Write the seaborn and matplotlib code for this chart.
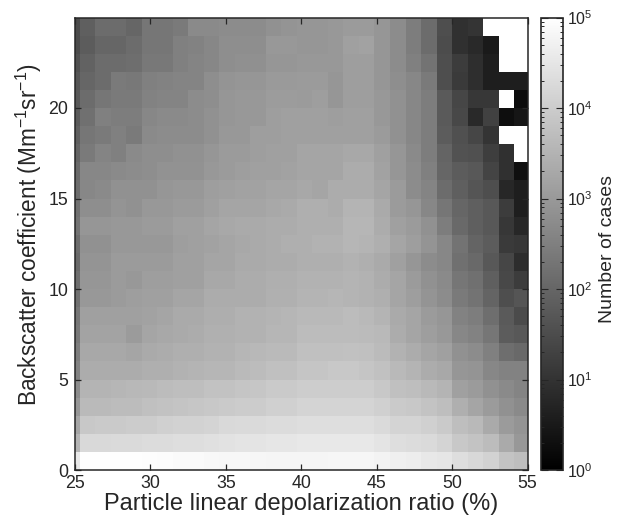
import numpy as np
import seaborn as sns
import matplotlib.pyplot as plt
from matplotlib.colors import LogNorm
from matplotlib.ticker import LogLocator, NullFormatter

nan = np.nan

# log10(number of cases), one list per backscatter bin, columns follow depolarization
row_24 = [1.47,1.86,2.12,2.12,2.00,2.31,2.31,2.39,2.71,2.71,2.75,2.75,2.75,2.84,2.90,2.94,2.94,2.98,3.04,3.04,2.94,2.75,2.45,2.12,1.53,0.94,1.02,nan,nan,nan]
row_23 = [1.47,1.80,2.00,2.00,2.12,2.31,2.31,2.51,2.55,2.65,2.78,2.78,2.78,2.98,2.98,2.94,2.94,2.98,3.14,3.18,2.94,2.75,2.45,2.12,1.49,0.94,0.82,0.51,nan,nan]
row_22 = [1.57,1.92,2.12,2.12,2.16,2.35,2.35,2.51,2.59,2.65,2.78,2.82,2.82,2.94,2.94,2.98,2.98,2.98,3.10,3.10,2.94,2.75,2.51,2.25,1.53,1.18,0.90,0.59,nan,nan]
row_21 = [1.67,2.00,2.12,2.39,2.35,2.51,2.55,2.59,2.59,2.78,2.90,2.94,2.94,3.02,3.02,3.04,3.04,2.94,3.10,3.10,2.94,2.78,2.65,2.39,1.53,1.14,0.90,0.59,0.59,0.59]
row_20 = [1.73,2.12,2.31,2.39,2.39,2.55,2.59,2.59,2.75,2.78,2.94,2.98,2.98,3.06,3.06,3.04,3.10,2.94,3.10,3.10,2.98,2.84,2.65,2.45,1.76,1.37,1.08,1.08,nan,0.24]
row_19 = [1.76,2.20,2.51,2.45,2.45,2.65,2.71,2.71,2.75,2.84,2.94,2.98,2.98,3.10,3.14,3.14,3.14,3.10,3.14,3.14,2.98,2.84,2.65,2.45,1.76,1.41,0.82,1.27,0.29,0.43]
row_18 = [1.86,2.31,2.39,2.51,2.39,2.71,2.75,2.75,2.75,2.84,2.98,2.98,3.10,3.10,3.14,3.14,3.14,3.14,3.14,3.14,3.04,2.84,2.65,2.45,1.80,1.57,1.37,1.02,nan,nan]
row_17 = [1.96,2.39,2.59,2.51,2.71,2.78,2.78,2.84,2.84,2.94,3.04,3.04,3.10,3.14,3.14,3.24,3.24,3.24,3.29,3.29,3.14,2.94,2.71,2.45,1.96,1.61,1.57,1.22,0.94,nan]
row_16 = [2.06,2.65,2.65,2.71,2.75,2.78,2.86,2.86,2.86,2.98,3.04,3.10,3.14,3.14,3.18,3.24,3.24,3.24,3.37,3.37,3.18,2.94,2.75,2.51,2.00,1.80,1.73,1.33,0.94,0.31]
row_15 = [2.12,2.65,2.71,2.84,2.84,2.84,2.94,2.98,2.98,3.10,3.14,3.18,3.18,3.24,3.24,3.29,3.24,3.37,3.37,3.37,3.24,3.04,2.75,2.59,2.12,1.86,1.67,1.53,0.78,0.59]
row_14 = [2.20,2.78,2.78,2.90,2.84,2.98,2.98,3.04,3.04,3.14,3.24,3.24,3.24,3.29,3.33,3.43,3.43,3.37,3.53,3.53,3.33,3.04,2.94,2.65,2.31,2.00,1.86,1.73,1.18,0.59]
row_13 = [2.25,2.94,2.94,2.98,2.98,3.04,3.04,3.14,3.14,3.24,3.29,3.33,3.33,3.37,3.37,3.43,3.43,3.43,3.57,3.57,3.37,3.14,3.04,2.84,2.45,2.06,1.86,1.73,1.08,0.78]
row_12 = [2.12,2.84,2.84,2.98,2.98,2.98,2.98,3.10,3.14,3.18,3.24,3.29,3.33,3.37,3.43,3.43,3.49,3.49,3.57,3.53,3.43,3.24,3.10,2.90,2.65,2.25,1.96,1.80,1.14,1.08]
row_11 = [2.06,2.90,2.90,3.04,3.04,3.04,3.04,3.14,3.14,3.24,3.24,3.33,3.33,3.37,3.37,3.43,3.43,3.43,3.49,3.43,3.33,3.14,2.94,2.75,2.65,2.20,2.06,1.73,1.37,0.88]
row_10 = [2.16,2.94,2.94,3.04,2.98,3.10,3.10,3.14,3.14,3.29,3.29,3.37,3.37,3.43,3.43,3.49,3.49,3.49,3.53,3.49,3.37,3.24,3.04,2.84,2.71,2.31,2.20,1.86,1.41,1.18]
row_09 = [2.20,2.98,2.98,3.04,3.10,3.14,3.14,3.24,3.24,3.37,3.37,3.37,3.37,3.45,3.45,3.53,3.53,3.57,3.53,3.49,3.43,3.24,3.10,2.90,2.75,2.39,2.25,1.96,1.53,1.67]
row_08 = [2.31,3.14,3.14,3.14,3.14,3.18,3.24,3.33,3.33,3.41,3.41,3.49,3.49,3.53,3.57,3.63,3.63,3.63,3.69,3.63,3.53,3.33,3.24,3.04,2.94,2.55,2.45,2.16,1.76,1.47]
row_07 = [2.35,3.20,3.20,3.20,3.04,3.24,3.29,3.33,3.37,3.45,3.45,3.49,3.49,3.57,3.57,3.69,3.69,3.69,3.69,3.67,3.63,3.37,3.24,3.10,2.98,2.65,2.55,2.31,1.80,1.73]
row_06 = [2.45,3.29,3.29,3.29,3.24,3.33,3.37,3.43,3.43,3.49,3.49,3.57,3.61,3.65,3.65,3.76,3.76,3.76,3.78,3.76,3.67,3.49,3.37,3.24,3.14,2.84,2.75,2.51,2.16,2.06]
row_05 = [2.55,3.37,3.37,3.37,3.37,3.43,3.43,3.49,3.53,3.57,3.57,3.65,3.69,3.76,3.76,3.86,3.86,3.92,3.92,3.86,3.78,3.63,3.53,3.37,3.29,2.94,2.90,2.65,2.55,2.55]
row_04 = [2.75,3.53,3.53,3.57,3.61,3.63,3.69,3.73,3.73,3.80,3.80,3.86,3.88,3.96,3.96,4.02,4.02,4.02,4.02,4.02,3.92,3.76,3.73,3.63,3.53,3.14,3.04,2.84,2.71,2.59]
row_03 = [2.94,3.65,3.65,3.69,3.69,3.76,3.80,3.84,3.88,3.92,3.96,4.00,4.00,4.08,4.08,4.16,4.16,4.16,4.16,4.16,4.08,3.96,3.92,3.82,3.73,3.43,3.24,3.04,2.84,2.71]
row_02 = [3.24,3.92,3.96,3.96,4.00,4.00,4.08,4.12,4.12,4.16,4.24,4.27,4.27,4.31,4.31,4.35,4.35,4.35,4.35,4.35,4.27,4.16,4.16,4.08,3.96,3.73,3.63,3.33,3.04,2.90]
row_01 = [3.53,4.24,4.24,4.27,4.27,4.31,4.31,4.35,4.35,4.39,4.43,4.47,4.47,4.51,4.51,4.55,4.55,4.55,4.55,4.55,4.47,4.35,4.31,4.27,4.16,3.92,3.82,3.69,3.33,2.98]
row_00 = [4.55,4.98,4.98,4.98,4.98,4.96,4.94,4.90,4.90,4.86,4.84,4.84,4.82,4.80,4.80,4.80,4.80,4.82,4.82,4.82,4.75,4.67,4.63,4.55,4.51,4.35,4.22,4.12,3.82,3.73]

x_ticks = [25, 30, 35, 40, 45, 50, 55]
y_ticks = [0, 5, 10, 15, 20]
cbar_ticks = [1, 10, 100, 1000, 10000, 100000]

sns.set_style('white')
plt.rcParams['font.family'] = ['Liberation Sans', 'DejaVu Sans']
plt.rcParams['mathtext.fontset'] = 'custom'
plt.rcParams['mathtext.rm'] = 'Liberation Sans'
plt.rcParams['mathtext.default'] = 'regular'
plt.rcParams['axes.axisbelow'] = False

log_cases = np.array([row_24, row_23, row_22, row_21, row_20, row_19, row_18, row_17, row_16,
                      row_15, row_14, row_13, row_12, row_11, row_10, row_09, row_08, row_07,
                      row_06, row_05, row_04, row_03, row_02, row_01, row_00])
cases = 10 ** log_cases

W, H = 619, 523
fig = plt.figure(figsize=(W / 100, H / 100), dpi=100)
ax = fig.add_axes([75 / W, 1 - 470 / H, 452.5 / W, 452.5 / H])
cax = fig.add_axes([541 / W, 1 - 470 / H, 22 / W, 452.5 / H])

sns.heatmap(cases, ax=ax, cbar_ax=cax, cmap='gray', norm=LogNorm(vmin=1, vmax=1e5),
            xticklabels=False, yticklabels=False, rasterized=True)

# bins are a bit wider than 1 %, and the outer two are cut by the axis limits
cell_left = 0.68
cell_right = 29.87
ax.set_xlim(cell_left, cell_right)
x_scale = (cell_right - cell_left) / (x_ticks[-1] - x_ticks[0])

ink = '#262626'
ax.set_xticks([cell_left + (v - x_ticks[0]) * x_scale for v in x_ticks])
ax.set_xticklabels([str(v) for v in x_ticks])
ax.set_yticks([len(cases) - v for v in y_ticks])
ax.set_yticklabels([str(v) for v in y_ticks], rotation=0)
ax.tick_params(direction='in', length=4.5, width=0.9, color=ink, labelcolor=ink, labelsize=12.8,
               top=True, right=True, bottom=True, left=True, pad=3.5)
ax.tick_params(axis='y', pad=5)
for s in ax.spines.values():
    s.set_visible(True)
    s.set_color(ink)
    s.set_linewidth(1.1)

ax.set_xlabel('Particle linear depolarization ratio (%)', fontsize=17, color=ink, labelpad=1)
ax.set_ylabel('Backscatter coefficient (Mm$^{-1}$sr$^{-1}$)', fontsize=16.3, color=ink, labelpad=3, y=0.52)

cb = ax.collections[0].colorbar
cb.outline.set_visible(True)
cb.outline.set_linewidth(1.2)
cb.outline.set_edgecolor(ink)
cb.set_ticks(cbar_ticks)
cb.set_ticklabels(['$10^{%d}$' % np.log10(v) for v in cbar_ticks])
cax.yaxis.set_minor_locator(LogLocator(base=10, subs=range(2, 10), numticks=12))
cax.yaxis.set_minor_formatter(NullFormatter())
cax.set_axisbelow(False)
cax.tick_params(which='major', direction='in', length=5, width=0.8, left=True, right=True,
                color=ink, labelcolor=ink, labelsize=11.5, pad=3)
cax.tick_params(which='minor', direction='in', length=2.5, width=0.7, left=True, right=True, color=ink)
cb.set_label('Number of cases', fontsize=14, color=ink, labelpad=4, y=0.489)

fig.savefig('out.png', dpi=100)
